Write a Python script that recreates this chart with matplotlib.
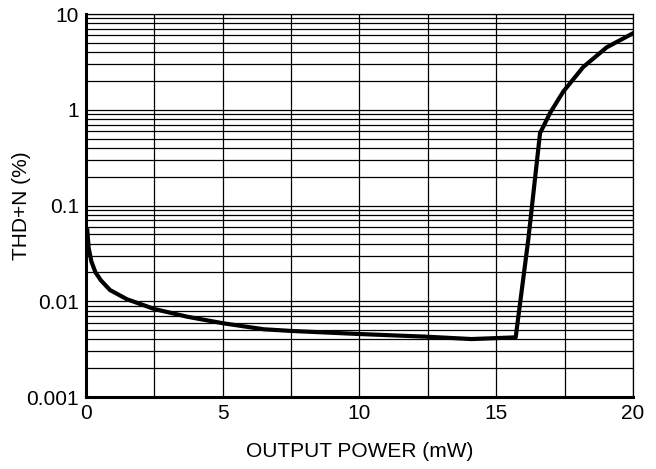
import matplotlib
matplotlib.use('Agg')
import matplotlib.pyplot as plt
from matplotlib.ticker import FixedLocator, LogLocator, NullFormatter

# values
power = [0.05, 0.1, 0.2, 0.35, 0.55, 0.88, 1.5, 2.5, 3.7, 5.0, 6.5, 7.5, 8.9, 10.0,
         12.5, 14.1, 15.71, 16.17, 16.6, 16.97, 17.45, 18.18, 19.04, 20.0]
thd = [0.055, 0.036, 0.026, 0.02, 0.0165, 0.0131, 0.0105, 0.0083, 0.0069, 0.0059,
       0.0051, 0.0049, 0.0047, 0.00455, 0.00426, 0.00403, 0.0042, 0.044, 0.57,
       0.93, 1.55, 2.8, 4.5, 6.3]

xticks = [0, 5, 10, 15, 20]
xgrid = [2.5, 7.5, 12.5, 17.5]
yticks = [0.001, 0.01, 0.1, 1, 10]
ylabels = ['0.001', '0.01', '0.1', '1', '10']

plt.rcParams['font.family'] = ['Liberation Sans', 'DejaVu Sans']

fig = plt.figure(figsize=(6.56, 4.69), dpi=100)
ax = fig.add_axes([0.131, 0.1535, 0.834, 0.8165])

ax.set_yscale('log')
ax.set_xlim(0, 20)
ax.set_ylim(0.001, 10)

ax.xaxis.set_major_locator(FixedLocator(xticks))
ax.xaxis.set_minor_locator(FixedLocator(xgrid))
ax.set_yticks(yticks)
ax.set_yticklabels(ylabels)
ax.yaxis.set_minor_locator(LogLocator(base=10, subs=range(2, 10)))
ax.yaxis.set_minor_formatter(NullFormatter())

ax.grid(True, which='both', color='black', lw=0.9)
ax.tick_params(which='both', length=0, labelsize=15, colors='black', pad=5)

for s in ['left', 'bottom']:
    ax.spines[s].set_linewidth(2.2)
for s in ['top', 'right']:
    ax.spines[s].set_linewidth(0.9)

ax.plot(power, thd, color='black', lw=3, solid_joinstyle='round', zorder=5)

ax.set_xlabel('OUTPUT POWER (mW)', fontsize=15, labelpad=14)
ax.set_ylabel('THD+N (%)', fontsize=15)
ax.yaxis.set_label_coords(-0.1, 0.5)

fig.savefig('out.png', dpi=100)
